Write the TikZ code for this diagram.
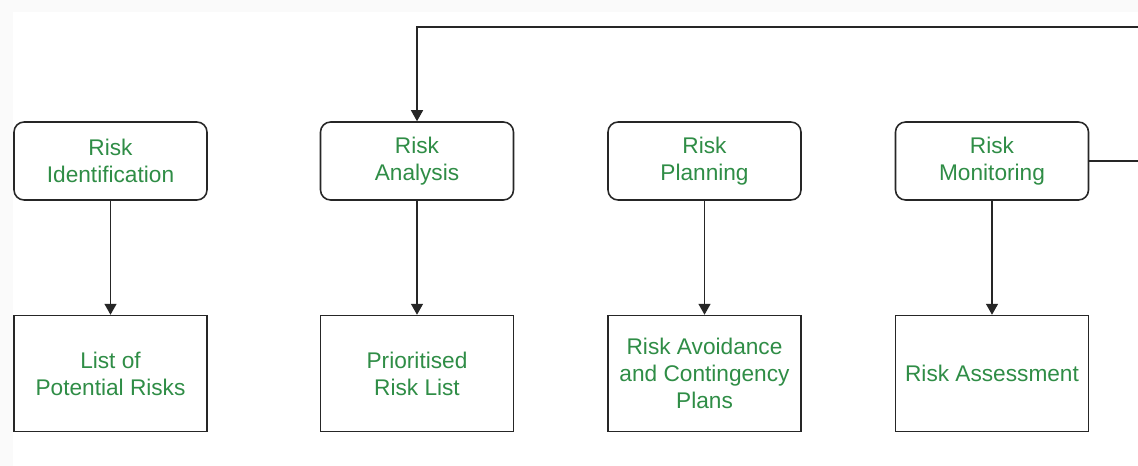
\documentclass[tikz,border=0pt]{standalone}
\usepackage{fontspec}
\setmainfont{Liberation Sans}
\usepackage{tikz}
\usetikzlibrary{positioning}
\usetikzlibrary{arrows.meta}
\definecolor{riskgreen}{HTML}{2F8D46}
\tikzstyle{stage}=[rectangle,rounded corners=0.2cm,draw=black!85,line width=0.9pt,minimum width=3.86cm,minimum height=1.56cm,inner sep=0pt,align=center,text=riskgreen,font=\fontsize{12.9}{15.4}\selectfont]
\tikzstyle{outcome}=[rectangle,draw=black!85,line width=0.9pt,minimum width=3.86cm,minimum height=2.32cm,inner sep=0pt,align=center,text=riskgreen,font=\fontsize{12.9}{15.4}\selectfont]
\tikzstyle{edge} = [draw,line width=0.8pt,black!85,-{Triangle[width=0.24cm,length=0.22cm]}]

\begin{document}
\begin{tikzpicture}[x=0.02cm, y=-0.02cm]
    % page with its faint grey margin
    \useasboundingbox (0,0) rectangle (1138,466);
    \clip (0,0) rectangle (1138,466);
    \fill[black!2] (0,0) rectangle (1138,466);
    \fill[white] (13,12) rectangle (1138,466);

    % First the four stages
    \foreach \pos/\name/\label in {{(110.5,161)/ident/Risk\\Identification}, {(417,161)/analysis/Risk\\Analysis}, {(704.5,161)/planning/Risk\\Planning}, {(992,161)/monitoring/Risk\\Monitoring}}
        \node[stage] (\name) at \pos {\label};

    % then what each stage gives
    \foreach \above/\name/\label in {ident/potrisks/List of\\Potential Risks, analysis/prilist/Prioritised\\Risk List, planning/plans/Risk Avoidance\\and Contingency\\Plans, monitoring/assess/Risk Assessment}
        \node[outcome, below=2.28cm of \above] (\name) {\label};

    % Connect stages with their outputs
    \foreach \source/\dest in {ident/potrisks, analysis/prilist, planning/plans, monitoring/assess}
        \path[edge] (\source) -- (\dest);

    % feedback from monitoring back to analysis
    \coordinate (feedback) at (1150,27);
    \path[edge] (monitoring.east) -| (feedback) -| (analysis.north);
\end{tikzpicture}
\end{document}
